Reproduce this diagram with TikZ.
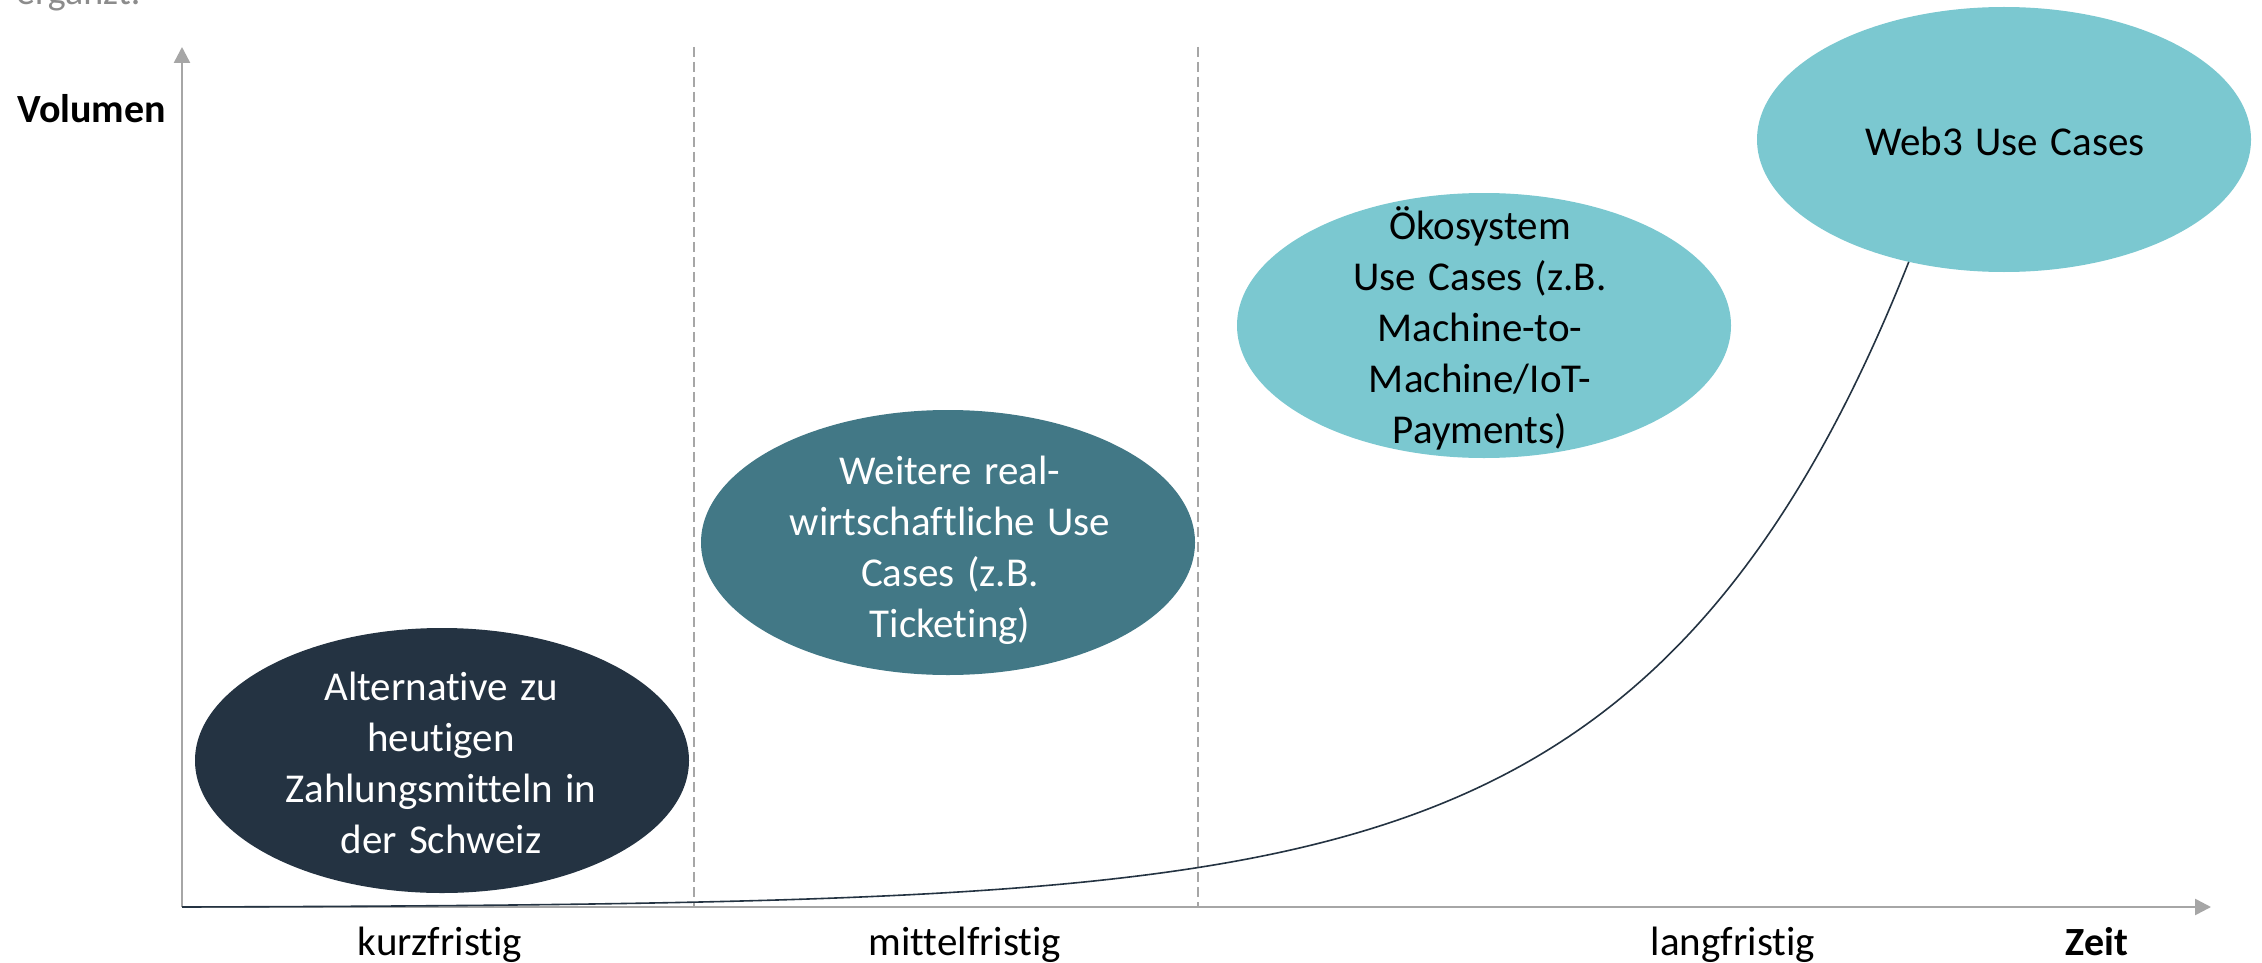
\documentclass[tikz,border=0pt]{standalone}
\usepackage{fontspec}
\setmainfont[Ligatures=NoCommon]{Carlito}
\usetikzlibrary{shapes.geometric,arrows.meta}
\definecolor{cNavy}{HTML}{243342}
\definecolor{cTeal}{HTML}{427886}
\definecolor{cLight}{HTML}{7BC8D0}
\definecolor{cAxis}{HTML}{A6A6A6}
\definecolor{cNote}{HTML}{8C8C8C}
\newcommand\mywordsp{\spaceskip=0.3em\relax}
\begin{document}
\begin{tikzpicture}[x=1pt,y=-1pt,
  axisline/.style={draw=cAxis, line width=2.5pt, -{Triangle[length=16pt,width=16pt]}},
  sepline/.style={draw=cAxis, line width=2pt, dash pattern=on 10pt off 5pt},
  curveline/.style={draw=cNavy, line width=1.6pt},
  bubble/.style={ellipse, minimum width=494pt, minimum height=265pt, inner sep=0pt},
  btext/.style={align=center, inner sep=0pt, font=\fontsize{41}{51}\selectfont\mywordsp},
  axlabel/.style={anchor=base, inner sep=0pt, font=\fontsize{41}{48}\selectfont},
  axtitle/.style={inner sep=0pt, font=\fontsize{40}{48}\selectfont\bfseries},
]
\fill[white] (0,0) rectangle (2262,963);
\useasboundingbox (0,0) rectangle (2262,963);

% partially visible note text
\node[anchor=base west, inner sep=0pt, text=cNote, font=\fontsize{38}{46}\selectfont] (note) at (16,5) {ergänzt.};

% axes
\coordinate (o) at (182,907);
\coordinate (ytip) at (182,47);
\coordinate (xtip) at (2211,907);
\draw[axisline] (o) -- (ytip);
\draw[axisline] (o) -- (xtip);

% separators
\coordinate (s1t) at (694,47);
\coordinate (s1b) at (694,907);
\coordinate (s2t) at (1198,47);
\coordinate (s2b) at (1198,907);
\draw[sepline] (s1t) -- (s1b);
\draw[sepline] (s2t) -- (s2b);

% growth curve
\draw[curveline] plot[domain=0:1735, samples=300, smooth] ({182+\x},{907-0.76*(exp(0.0039*\x)-1)});

% bubbles
\node[bubble, fill=cNavy] (alt) at (442,760.5) {};
\node[bubble, fill=cTeal] (weit) at (948,542.5) {};
\node[bubble, fill=cLight] (oeko) at (1484,325.5) {};
\node[bubble, fill=cLight] (web3) at (2004,139.5) {};

\node[btext, text=white] (altT) at (441,763) {Alternative zu\\heutigen\\Zahlungsmitteln in\\der Schweiz};
\node[btext, text=white] (weitT) at (950,550) {Weitere real-\\wirtschaftliche Use\\Cases (z.B.\\Ticketing)};
\node[btext, text=black] (oekoT) at (1480,328) {Ökosystem\\Use Cases (z.B.\\Machine-to-\\Machine/IoT-\\Payments)};
\node[btext, text=black] (web3T) at (2005,141) {Web3 Use Cases};

% axis labels
\node[axtitle, anchor=base west] (vol) at (17,123) {Volumen};
\node[axlabel] (kurz) at (440,955) {kurzfristig};
\node[axlabel] (mittel) at (965,955) {mittelfristig};
\node[axlabel] (lang) at (1733,955) {langfristig};
\node[axtitle, anchor=base] (zeit) at (2097,955) {Zeit};
\end{tikzpicture}
\end{document}
